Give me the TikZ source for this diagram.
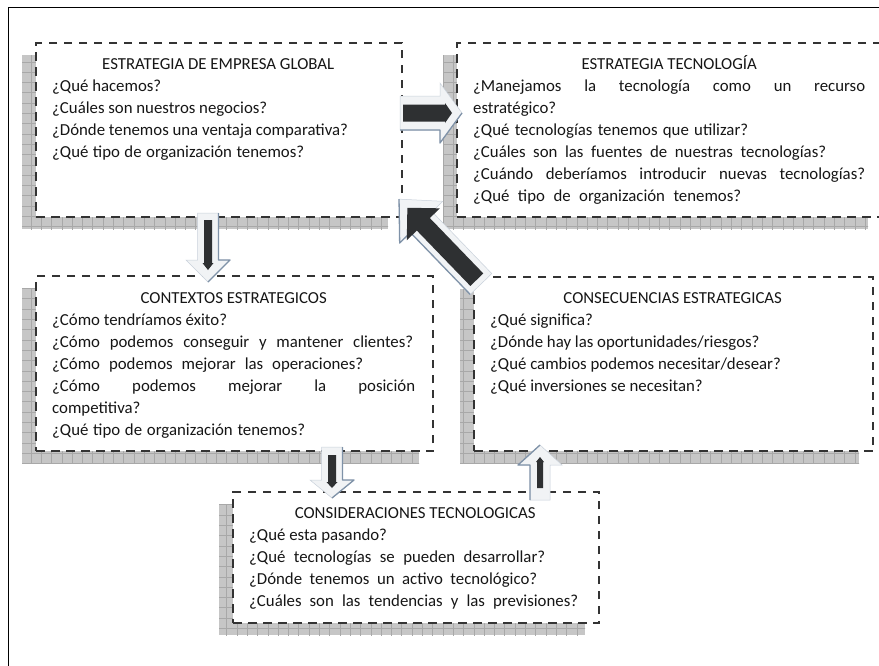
\documentclass[tikz,border=0pt]{standalone}
\usepackage{fontspec}
\setmainfont{Carlito}
\definecolor{dashc}{HTML}{333333}
\definecolor{shadowc}{HTML}{C6C6C6}
\definecolor{gridc}{HTML}{A8A8A8}
\definecolor{lightc}{HTML}{F1F3F5}
\definecolor{lineb}{HTML}{C9D1DB}
\definecolor{bevelc}{HTML}{7F92A8}
\definecolor{darkc}{HTML}{2E3032}
\definecolor{txtc}{HTML}{161616}
\newcommand\bevelside{1}
\newcommand\sline[2]{\makebox[#1pt][s]{#2}}
\tikzset{
  boxst/.style={draw=dashc, fill=white, line width=2.1pt, dash pattern=on 8.5pt off 6.5pt, inner sep=0pt, anchor=north west},
  txt/.style={anchor=north west, inner sep=0pt, align=left, font=\fontsize{16.8}{22}\selectfont, text=txtc},
  bevel/.code={\renewcommand\bevelside{#1}},
  pics/barrow/.style args={#1/#2/#3/#4/#5/#6/#7/#8/#9}{code={
    \filldraw[fill=lightc, draw=lineb, line width=0.5pt] (0,-#2) -- (#1-#4,-#2) -- (#1-#4,-#3) -- (#1,0) -- (#1-#4,#3) -- (#1-#4,#2) -- (0,#2) -- cycle;
    \draw[bevelc, line width=1.3pt, line join=round] (0,\bevelside*#2) -- (#1-#4,\bevelside*#2) -- (#1-#4,\bevelside*#3) -- (#1,0);
    \fill[darkc] (#5,-#7) -- (#6-#9,-#7) -- (#6-#9,-#8) -- (#6,0) -- (#6-#9,#8) -- (#6-#9,#7) -- (#5,#7) -- cycle;
  }}
}
\newcommand\shadowbox[5]{%
  \begin{scope}
    \clip (#2-13,#3+13) rectangle (#4-13,#5+13);
    \fill[shadowc] (#2-13,#3+13) rectangle (#4-13,#5+13);
    \draw[gridc, line width=0.5pt, step=10.3pt] (#2-23,#3+3) grid (#4,#5+23);
  \end{scope}
  \node[boxst, minimum width=#4-#2, minimum height=#5-#3] (#1) at (#2,#3) {};
}
\begin{document}
\begin{tikzpicture}[x=1pt,y=-1pt]
\useasboundingbox (0,0) rectangle (879,665);
\fill[white] (0,0) rectangle (879,665);
\draw[black, line width=0.9pt] (8.5,7.5) rectangle (890,680);

\shadowbox{b1}{35}{42}{401}{216}
\shadowbox{b2}{456}{42}{881}{216}
\shadowbox{b3}{35}{275}{432}{450}
\shadowbox{b4}{473}{276}{872}{450}
\shadowbox{b5}{232}{491}{598}{622}

\node[txt] (t1) at (52,54) {\rule{0pt}{15pt}\makebox[332pt]{ESTRATEGIA DE EMPRESA GLOBAL}\\
¿Qué hacemos?\\
¿Cuáles son nuestros negocios?\\
¿Dónde tenemos una ventaja comparativa?\\
\sline{252}{¿Qué tipo de organización tenemos?}};

\node[txt] (t2) at (473,54) {\rule{0pt}{15pt}\makebox[392pt]{ESTRATEGIA TECNOLOGÍA}\\
\sline{392}{¿Manejamos la tecnología como un recurso}\\
estratégico?\\
\sline{275}{¿Qué tecnologías tenemos que utilizar?}\\
\sline{353}{¿Cuáles son las fuentes de nuestras tecnologías?}\\
\sline{392}{¿Cuándo deberíamos introducir nuevas tecnologías?}\\
\sline{268}{¿Qué tipo de organización tenemos?}};

\node[txt] (t3) at (52,288) {\rule{0pt}{15pt}\makebox[363pt]{CONTEXTOS ESTRATEGICOS}\\
¿Cómo tendríamos éxito?\\
\sline{361}{¿Cómo podemos conseguir y mantener clientes?}\\
\sline{311}{¿Cómo podemos mejorar las operaciones?}\\
\sline{363}{¿Cómo podemos mejorar la posición}\\
competitiva?\\
\sline{253}{¿Qué tipo de organización tenemos?}};

\node[txt] (t4) at (490,288) {\rule{0pt}{15pt}\makebox[365pt]{CONSECUENCIAS ESTRATEGICAS}\\
¿Qué significa?\\
¿Dónde hay las oportunidades/riesgos?\\
¿Qué cambios podemos necesitar/desear?\\
¿Qué inversiones se necesitan?};

\node[txt] (t5) at (249,503) {\rule{0pt}{15pt}\makebox[332pt]{CONSIDERACIONES TECNOLOGICAS}\\
¿Qué esta pasando?\\
\sline{296}{¿Qué tecnologías se pueden desarrollar?}\\
\sline{288}{¿Dónde tenemos un activo tecnológico?}\\
\sline{329}{¿Cuáles son las tendencias y las previsiones?}};

% block arrows
\pic[bevel=1] (aAB) at (400,113) {barrow=62/17/30/22/3/52/8.5/10/7};
\pic[rotate=-90, bevel=-1] (aAC) at (208,213) {barrow=69/10.5/22/22/7/57/4/5.5/7};
\pic[rotate=-90, bevel=-1] (aCE) at (332,447) {barrow=51/10.5/22/18/8/41/4/5.5/6};
\pic[rotate=90, bevel=-1] (aED) at (540,500) {barrow=55/10/22/20/12/43/3/4/5};
\pic[rotate=134, bevel=-1] (aDA) at (481,284) {barrow=118/15/30/32/6/106/9/23/23};
\end{tikzpicture}
\end{document}
